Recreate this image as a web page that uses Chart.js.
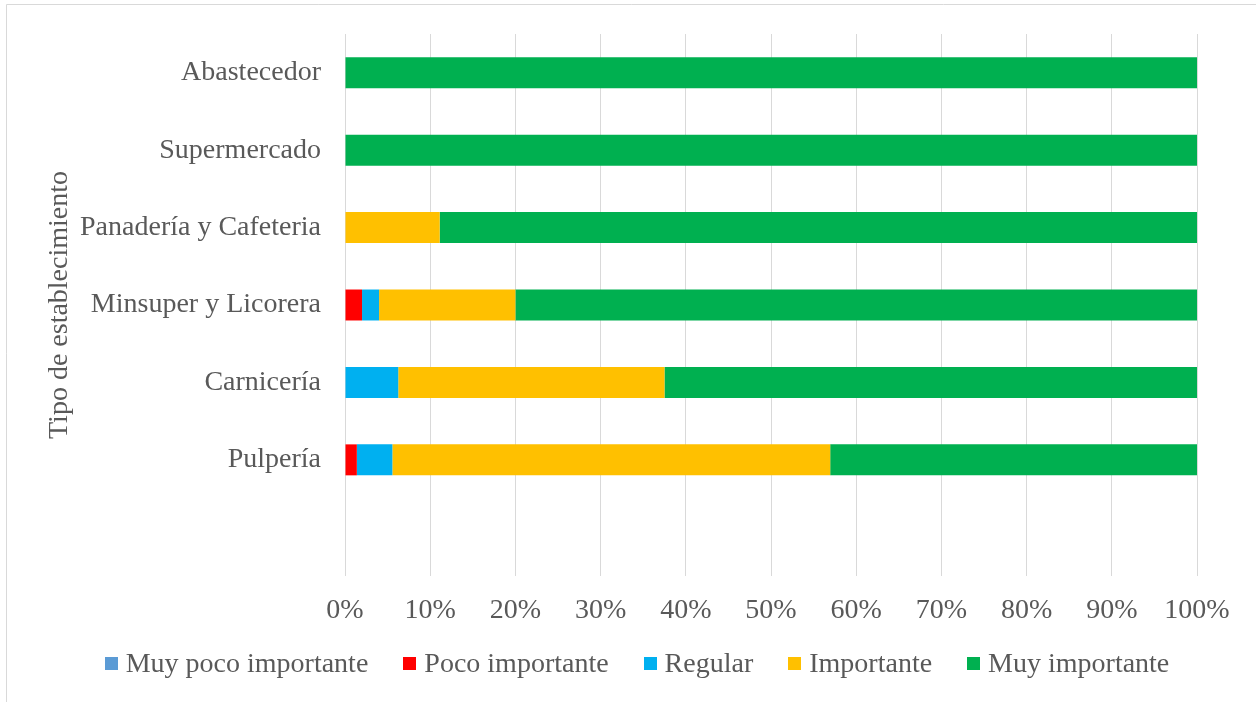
<!DOCTYPE html>
<html>
<head>
<meta charset="utf-8">
<script src="https://cdn.jsdelivr.net/npm/chart.js@4"></script>
<style>
  html, body { margin: 0; padding: 0; background: #ffffff; }
  #wrap { width: 1256px; height: 702px; }
</style>
</head>
<body>
<div id="wrap"><canvas id="c" width="1256" height="702"></canvas></div>
<script>
const categories = ['Abastecedor', 'Supermercado', 'Panadería y Cafeteria', 'Minsuper y Licorera', 'Carnicería', 'Pulpería', ''];
const muyPocoImportante = [0, 0, 0, 0, 0, 0, null];
const pocoImportante = [0, 0, 0, 2, 0, 1.39, null];
const regular = [0, 0, 0, 2, 6.25, 4.17, null];
const importante = [0, 0, 11.11, 16, 31.25, 51.39, null];
const muyImportante = [100, 100, 88.89, 80, 62.5, 43.06, null];
const xTicks = [0, 10, 20, 30, 40, 50, 60, 70, 80, 90, 100];

const FONT = "'Liberation Serif', 'Times New Roman', serif";
const TXT = '#595959';

const frame = {
  id: 'frame',
  beforeDraw(chart) {
    const ctx = chart.ctx;
    ctx.save();
    ctx.fillStyle = '#ffffff';
    ctx.fillRect(0, 0, chart.width, chart.height);
    ctx.strokeStyle = '#D9D9D9';
    ctx.lineWidth = 1;
    ctx.beginPath();
    ctx.moveTo(6.5, chart.height);
    ctx.lineTo(6.5, 4.5);
    ctx.lineTo(chart.width, 4.5);
    ctx.stroke();
    ctx.restore();
  }
};

// Legend drawn from the chart's own datasets (Excel-like spacing)
const excelLegend = {
  id: 'excelLegend',
  afterDraw(chart) {
    const ctx = chart.ctx;
    const box = 13, gap = 8, spacing = 35, cx = 637, cy = 664;
    ctx.save();
    ctx.font = '28px ' + FONT;
    const items = chart.data.datasets.map(d => ({ text: d.label, color: d.backgroundColor, w: ctx.measureText(d.label).width }));
    const total = items.reduce((s, it) => s + box + gap + it.w, 0) + spacing * (items.length - 1);
    let x = cx - total / 2;
    ctx.textBaseline = 'middle';
    ctx.textAlign = 'left';
    items.forEach(it => {
      ctx.fillStyle = it.color;
      ctx.fillRect(Math.round(x), cy - 7, box, box);
      ctx.fillStyle = TXT;
      ctx.fillText(it.text, x + box + gap, cy + 1);
      x += box + gap + it.w + spacing;
    });
    ctx.restore();
  }
};

function ds(label, data, color) {
  return { label, data, backgroundColor: color, borderWidth: 0, barPercentage: 0.4, categoryPercentage: 1 };
}

new Chart(document.getElementById('c'), {
  type: 'bar',
  data: {
    labels: categories,
    datasets: [
      ds('Muy poco importante', muyPocoImportante, '#5B9BD5'),
      ds('Poco importante', pocoImportante, '#FF0000'),
      ds('Regular', regular, '#00B0F0'),
      ds('Importante', importante, '#FFC000'),
      ds('Muy importante', muyImportante, '#00B050')
    ]
  },
  plugins: [frame, excelLegend],
  options: {
    indexAxis: 'y',
    responsive: false,
    animation: false,
    layout: { padding: { top: 34, right: 59, left: 6, bottom: 82 } },
    font: { family: FONT },
    scales: {
      x: {
        stacked: true,
        min: 0,
        max: 100,
        afterBuildTicks(scale) { scale.ticks = xTicks.map(v => ({ value: v })); },
        afterFit(scale) { scale.height = 44; scale.paddingLeft = 0; scale.paddingRight = 0; },
        ticks: {
          padding: 18,
          color: TXT,
          font: { family: FONT, size: 28 },
          maxRotation: 0,
          callback: v => v + '%'
        },
        grid: { color: '#D9D9D9', lineWidth: 1, drawTicks: false },
        border: { display: false }
      },
      y: {
        stacked: true,
        afterFit(scale) { scale.width = 339; scale.paddingTop = 0; scale.paddingBottom = 0; },
        ticks: {
          padding: 24,
          color: TXT,
          font: { family: FONT, size: 28 }
        },
        grid: { display: false, drawTicks: false },
        border: { display: false },
        title: {
          display: true,
          text: 'Tipo de establecimiento',
          color: TXT,
          font: { family: FONT, size: 28 },
          padding: { top: 37, bottom: 0 }
        }
      }
    },
    plugins: {
      legend: { display: false },
      tooltip: { enabled: false }
    }
  }
});
</script>
</body>
</html>
